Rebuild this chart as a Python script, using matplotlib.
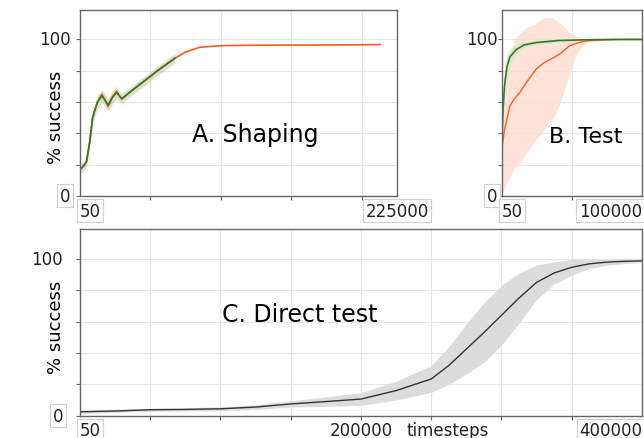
import numpy as np
import matplotlib.pyplot as plt

# A. Shaping
a_orange_x = [50, 2500, 4700, 7000, 9000, 10600, 12500, 15600, 18000, 20000, 23000, 26000, 28000, 29700,
              35000, 45000, 55000, 67400, 75000, 85000, 100000, 120000, 150000, 180000, 213000]
a_orange_y = [17, 19, 22, 35, 50, 55, 60, 65, 61, 57, 63, 67, 64, 62,
              66, 73, 80, 88, 92, 95, 96, 96.3, 96.4, 96.5, 96.7]
a_green_x = a_orange_x[:18]
a_green_y = [17, 19, 22, 35, 50, 55, 60, 64, 61, 58, 63, 66, 64, 62,
             66, 73, 80, 88]
a_green_sd = [3, 3, 3, 4, 4, 4, 4, 4, 4, 4, 4, 4, 3.5, 3.5, 3, 3, 3, 3]

# B. Test
b_green_x = [50, 1000, 2000, 3900, 6000, 10500, 16000, 24600, 40000, 60000, 80000, 100000]
b_green_y = [32, 55, 70, 83, 89, 93.6, 96.5, 98, 99.3, 99.8, 100, 100]
b_green_sd = [10, 12, 10, 7, 5, 3, 2, 1.5, 1, 0.5, 0.2, 0.1]
b_orange_x = [50, 2000, 5900, 9000, 12900, 18000, 24600, 30000, 36300, 42000, 48000, 53000, 59800, 70000, 85000, 100000]
b_orange_y = [29, 42, 57.5, 62, 66, 73, 81, 85, 88, 91, 95.7, 97.5, 99, 99.7, 100, 100]
b_orange_lo = [2, 5, 12, 18, 21, 28, 36, 42, 49, 60, 77, 90, 98, 99.5, 100, 100]
b_orange_hi = [55, 68, 90, 100, 104, 108, 110, 114, 114, 110, 105, 102, 100, 100, 100, 100]

# C. Direct test
c_x = [50, 25000, 50000, 75000, 100000, 125000, 150000, 175000, 200000, 225000, 250000, 262500, 275000,
       287500, 300000, 312500, 325000, 337500, 350000, 362500, 375000, 387500, 400000]
c_y = [2.5, 3, 3.8, 4, 4.4, 5.5, 7.5, 9, 10.6, 16, 23.4, 32, 42.5, 53, 64, 75, 85, 91, 94.6, 96.8, 97.9, 98.4, 98.7]
c_sd = [1, 1, 1, 1, 1.2, 1.5, 2, 3, 4, 6, 8.5, 12, 16, 19, 19, 16, 11, 7, 5, 3, 2, 1.5, 1]

ORANGE = '#ff5a1f'
GREEN = '#2e7d1e'
BOXC = '#d0d0d0'

fig = plt.figure(figsize=(6.44, 4.39), dpi=100)
axA = fig.add_axes([0.1242, 0.5513, 0.4923, 0.4243])
axB = fig.add_axes([0.779, 0.5513, 0.2179, 0.4243])
axC = fig.add_axes([0.1242, 0.0508, 0.8727, 0.4253])


def style(ax, xmax, right_ha):
    ax.set_xlim(50, xmax)
    ax.set_ylim(0, 119)
    ax.set_yticks([0, 20, 40, 60, 80, 100])
    ax.set_yticklabels([])
    ax.set_xticks(np.arange(50000, xmax, 50000))
    ax.set_xticklabels([])
    ax.grid(True, color='#e6e6e6', linewidth=0.8)
    ax.set_axisbelow(True)
    for s in ax.spines.values():
        s.set_color('#666666')
        s.set_linewidth(1.0)
    ax.tick_params(length=3, color='#666666', direction='out')
    box = dict(boxstyle='square,pad=0.15', fc='white', ec=BOXC, lw=0.8)
    ax.text(-0.03, 100, '100', transform=ax.get_yaxis_transform(), ha='right', va='center',
            fontsize=12, color='#222222')
    ax.text(-0.03, 0, '0', transform=ax.get_yaxis_transform(), ha='right', va='center',
            fontsize=12, color='#222222', bbox=box)
    ax.text(0.0, -0.03, '50', transform=ax.transAxes, ha='left', va='top',
            fontsize=12, color='#222222', bbox=box)
    ax.text(1.0, -0.03, str(xmax), transform=ax.transAxes, ha=right_ha, va='top',
            fontsize=12, color='#222222', bbox=box)


style(axA, 225000, 'center')
style(axB, 100000, 'right')
style(axC, 400000, 'right')

# panel A
gy = np.array(a_green_y)
gs = np.array(a_green_sd)
axA.fill_between(a_green_x, gy - gs, gy + gs, color='#c8cbb0', alpha=0.6, lw=0)
axA.plot(a_orange_x, a_orange_y, color=ORANGE, lw=1.2)
axA.plot(a_green_x, a_green_y, color=GREEN, lw=1.2)
axA.text(0.552, 0.333, 'A. Shaping', transform=axA.transAxes, ha='center', va='center', fontsize=17)
axA.set_ylabel('% success', fontsize=13)
axA.yaxis.set_label_coords(-0.047, 0.43)

# panel B
axB.fill_between(b_orange_x, b_orange_lo, b_orange_hi, color='#ffddd0', alpha=0.8, lw=0)
gy = np.array(b_green_y)
gs = np.array(b_green_sd)
axB.fill_between(b_green_x, gy - gs, np.minimum(gy + gs, 101), color='#cfe8c8', alpha=0.7, lw=0)
axB.plot(b_orange_x, b_orange_y, color=ORANGE, lw=1.0)
axB.plot(b_green_x, b_green_y, color=GREEN, lw=1.2)
axB.text(0.6, 0.32, 'B. Test', transform=axB.transAxes, ha='center', va='center', fontsize=16)

# panel C
cy = np.array(c_y)
cs = np.array(c_sd)
axC.fill_between(c_x, cy - cs, cy + cs, color='#dcdcdc', lw=0)
axC.plot(c_x, c_y, color='#333333', lw=1.0)
axC.text(0.391, 0.545, 'C. Direct test', transform=axC.transAxes, ha='center', va='center', fontsize=17)
axC.set_ylabel('% success', fontsize=13)
axC.yaxis.set_label_coords(-0.027, 0.48)
axC.text(200000, -0.03, '200000', transform=axC.get_xaxis_transform(), ha='center', va='top',
         fontsize=12, color='#222222')
axC.text(262000, -0.03, 'timesteps', transform=axC.get_xaxis_transform(), ha='center', va='top',
         fontsize=12, color='#222222')

fig.savefig('out.png', dpi=100)
